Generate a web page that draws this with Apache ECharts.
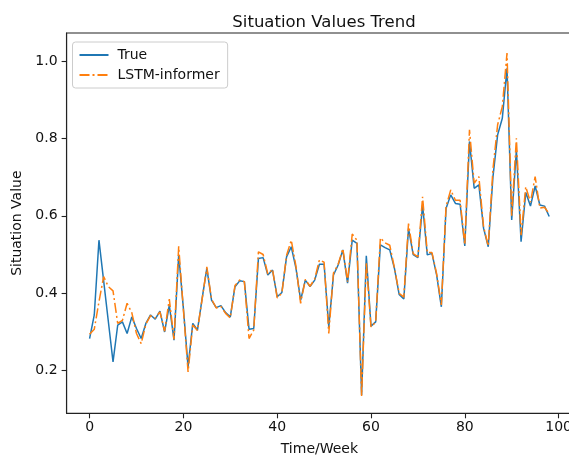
<!DOCTYPE html>
<html>
<head>
<meta charset="utf-8">
<script src="https://cdn.jsdelivr.net/npm/echarts@6/dist/echarts.min.js"></script>
<style>
  html, body { margin: 0; padding: 0; background: #fff; overflow: hidden; }
  /* the plot frame runs past the right edge of the window, so the canvas is drawn a little larger */
  #chart { width: 600px; height: 470px; }
</style>
</head>
<body>
<div id="chart"></div>
<script>
// Weekly situation values: observed series and the LSTM-informer prediction
const weeks = Array.from({ length: 99 }, (_, i) => i);

const trueValues = [
  0.283, 0.344, 0.537, 0.432, 0.327, 0.223, 0.318, 0.326, 0.296, 0.339,
  0.309, 0.283, 0.322, 0.344, 0.333, 0.354, 0.300, 0.369, 0.279, 0.499,
  0.361, 0.210, 0.322, 0.305, 0.387, 0.464, 0.382, 0.363, 0.368, 0.350,
  0.339, 0.417, 0.432, 0.430, 0.307, 0.309, 0.490, 0.492, 0.447, 0.460,
  0.391, 0.402, 0.494, 0.520, 0.465, 0.382, 0.434, 0.417, 0.434, 0.475,
  0.475, 0.313, 0.447, 0.473, 0.512, 0.426, 0.537, 0.529, 0.137, 0.497,
  0.315, 0.326, 0.525, 0.518, 0.512, 0.464, 0.397, 0.385, 0.567, 0.500,
  0.492, 0.628, 0.499, 0.503, 0.447, 0.365, 0.619, 0.654, 0.632, 0.630,
  0.522, 0.792, 0.671, 0.680, 0.568, 0.520, 0.700, 0.809, 0.852, 0.981,
  0.589, 0.770, 0.533, 0.660, 0.625, 0.677, 0.628, 0.625, 0.598
];

const predictedValues = [
  0.294, 0.307, 0.378, 0.443, 0.417, 0.406, 0.322, 0.330, 0.374, 0.350,
  0.296, 0.270, 0.320, 0.342, 0.336, 0.352, 0.302, 0.385, 0.281, 0.521,
  0.358, 0.197, 0.318, 0.304, 0.385, 0.468, 0.385, 0.362, 0.366, 0.348,
  0.336, 0.420, 0.434, 0.430, 0.283, 0.305, 0.507, 0.500, 0.450, 0.462,
  0.388, 0.400, 0.498, 0.537, 0.470, 0.374, 0.436, 0.418, 0.437, 0.486,
  0.480, 0.296, 0.452, 0.475, 0.515, 0.430, 0.553, 0.537, 0.135, 0.480,
  0.313, 0.325, 0.543, 0.530, 0.524, 0.466, 0.400, 0.390, 0.580, 0.502,
  0.494, 0.649, 0.505, 0.505, 0.450, 0.370, 0.624, 0.667, 0.640, 0.640,
  0.525, 0.822, 0.684, 0.701, 0.572, 0.522, 0.720, 0.835, 0.882, 1.020,
  0.600, 0.800, 0.550, 0.675, 0.635, 0.701, 0.620, 0.622, 0.605
];

const xTicks = [0, 20, 40, 60, 80, 100];
const yTicks = [0.2, 0.4, 0.6, 0.8, 1.0];

const FONT = 'DejaVu Sans';
const INK = '#222';
const Y_MIN = 0.09, Y_MAX = 1.072;

const pairs = (ys) => weeks.map((w, i) => [w, ys[i]]);

const chart = echarts.init(document.getElementById('chart'), null, { renderer: 'canvas' });

chart.setOption({
  animation: false,
  backgroundColor: '#fff',
  textStyle: { fontFamily: FONT },
  title: {
    text: 'Situation Values Trend',
    left: 319,
    top: 9,
    textAlign: 'center',
    textStyle: { fontFamily: FONT, fontSize: 16.5, fontWeight: 'normal', color: '#111' }
  },
  grid: {
    left: 66.6,
    top: 33,
    width: 505.6,
    height: 380.3,
    show: true,
    borderColor: INK,
    borderWidth: 1.1,
    containLabel: false,
    outerBoundsMode: 'none'
  },
  legend: {
    orient: 'vertical',
    left: 72.5,
    top: 42,
    padding: [6, 8, 6, 6],
    itemWidth: 29,
    itemHeight: 14,
    itemGap: 6,
    backgroundColor: 'rgba(255,255,255,0.8)',
    borderColor: '#cccccc',
    borderWidth: 1,
    borderRadius: 3,
    itemStyle: { color: 'rgba(0,0,0,0)', borderWidth: 0, opacity: 0 },
    textStyle: { fontFamily: FONT, fontSize: 14, color: '#111', padding: [0, 0, 0, 4] },
    data: ['True', 'LSTM-informer']
  },
  xAxis: {
    type: 'value',
    min: -4.9,
    max: 102.9,
    name: 'Time/Week',
    nameLocation: 'middle',
    nameGap: 29,
    nameTextStyle: { fontFamily: FONT, fontSize: 14, color: '#111' },
    axisLine: { show: true, onZero: false, lineStyle: { color: INK, width: 1.1 } },
    axisTick: { show: true, inside: false, length: 5, customValues: xTicks, lineStyle: { color: INK, width: 1.1 } },
    axisLabel: { customValues: xTicks, margin: 7, fontFamily: FONT, fontSize: 14, color: '#111' },
    splitLine: { show: false }
  },
  yAxis: {
    type: 'value',
    min: Y_MIN,
    max: Y_MAX,
    name: 'Situation Value',
    nameLocation: 'middle',
    nameRotate: 90,
    nameGap: 38,
    nameTextStyle: { fontFamily: FONT, fontSize: 14, color: '#111' },
    axisLine: { show: true, onZero: false, lineStyle: { color: INK, width: 1.1 } },
    axisTick: { show: true, inside: false, length: 5, customValues: yTicks, lineStyle: { color: INK, width: 1.1 } },
    axisLabel: {
      customValues: yTicks,
      margin: 9,
      fontFamily: FONT,
      fontSize: 14,
      color: '#111',
      formatter: (v) => v.toFixed(1)
    },
    splitLine: { show: false }
  },
  series: [
    {
      name: 'True',
      type: 'line',
      data: pairs(trueValues),
      symbol: 'none',
      color: '#1f77b4',
      lineStyle: { color: '#1f77b4', width: 1.5 },
      z: 2
    },
    {
      name: 'LSTM-informer',
      type: 'line',
      data: pairs(predictedValues),
      symbol: 'none',
      color: '#ff7f0e',
      lineStyle: { color: '#ff7f0e', width: 1.5, type: [10, 3, 2, 3] },
      z: 3
    }
  ]
});
</script>
</body>
</html>
